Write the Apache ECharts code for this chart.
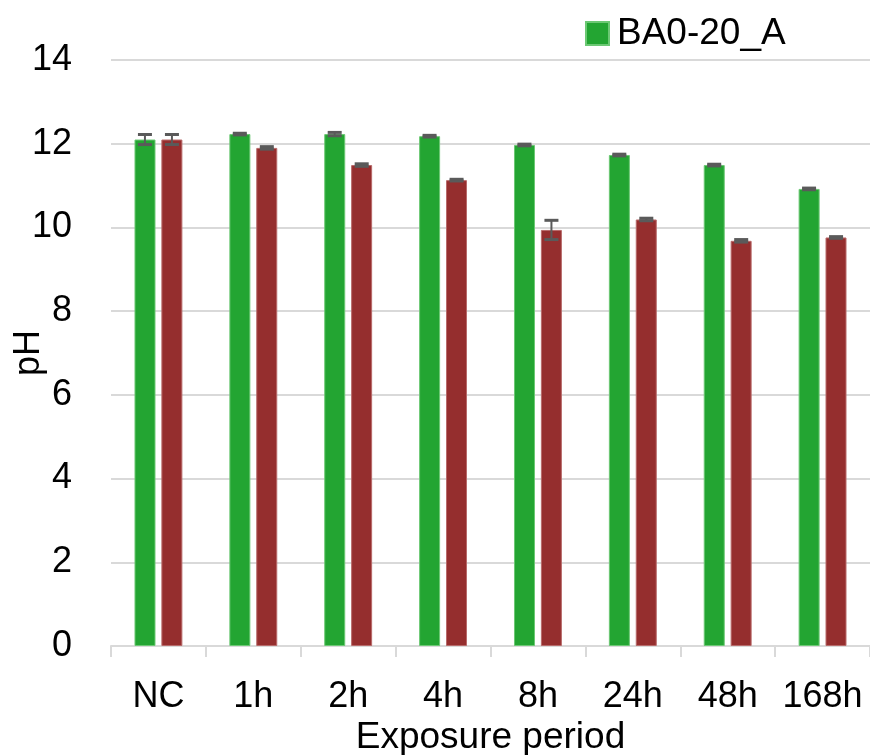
<!DOCTYPE html>
<html>
<head>
<meta charset="utf-8">
<script src="https://cdn.jsdelivr.net/npm/echarts@6/dist/echarts.min.js"></script>
<style>
  html, body { margin: 0; padding: 0; background: #fff; }
  #chart { width: 870px; height: 755px; }
</style>
</head>
<body>
<div id="chart"></div>
<script>
const categories = ['NC', '1h', '2h', '4h', '8h', '24h', '48h', '168h']
const greenValues = [12.10, 12.23, 12.23, 12.18, 11.97, 11.73, 11.49, 10.92]
const greenErrors = [0.12, 0.02, 0.04, 0.02, 0.02, 0.02, 0.02, 0.02]
const redValues = [12.10, 11.90, 11.49, 11.13, 9.94, 10.19, 9.68, 9.76]
const redErrors = [0.12, 0.03, 0.03, 0.02, 0.23, 0.03, 0.03, 0.02]
const yTicks = { min: 0, max: 14, interval: 2 }

const barW = 21
const offset = 13.5

function errorData(values, errors) {
  return values.map((v, i) => [i, v - errors[i], v + errors[i]])
}

function errorSeries(values, errors, dx) {
  return {
    type: 'custom',
    silent: true,
    z: 10,
    data: errorData(values, errors),
    renderItem(params, api) {
      const lo = api.coord([api.value(0), api.value(1)])
      const hi = api.coord([api.value(0), api.value(2)])
      const x = lo[0] + dx
      const cap = 7
      const style = { stroke: '#5a5a5a', lineWidth: 3 }
      return {
        type: 'group',
        children: [
          { type: 'line', shape: { x1: x, y1: lo[1], x2: x, y2: hi[1] }, style: { stroke: '#5a5a5a', lineWidth: 2 } },
          { type: 'line', shape: { x1: x - cap, y1: lo[1], x2: x + cap, y2: lo[1] }, style },
          { type: 'line', shape: { x1: x - cap, y1: hi[1], x2: x + cap, y2: hi[1] }, style }
        ]
      }
    }
  }
}

const chart = echarts.init(document.getElementById('chart'))
chart.setOption({
  animation: false,
  textStyle: { fontFamily: 'Liberation Sans, Arial, sans-serif' },
  grid: { left: 111, right: 0, top: 60, bottom: 109, outerBoundsMode: 'none' },
  legend: {
    data: ['BA0-20_A'],
    left: 580,
    top: 10,
    itemWidth: 23,
    itemHeight: 23,
    icon: 'rect',
    textStyle: { fontSize: 37, color: '#000', padding: [0, 0, 0, 3] }
  },
  xAxis: {
    type: 'category',
    data: categories,
    name: 'Exposure period',
    nameLocation: 'middle',
    nameGap: 73,
    nameMoveOverlap: false,
    nameTextStyle: { fontSize: 37, color: '#000' },
    axisLine: { lineStyle: { color: '#d9d9d9', width: 2 } },
    axisTick: { show: true, interval: 0, length: 11, lineStyle: { color: '#d9d9d9', width: 2 } },
    axisLabel: { fontSize: 36, color: '#000', margin: 33, interval: 0 }
  },
  yAxis: {
    type: 'value',
    min: yTicks.min,
    max: yTicks.max,
    interval: yTicks.interval,
    name: 'pH',
    nameLocation: 'middle',
    nameGap: 64,
    nameMoveOverlap: false,
    nameTextStyle: { fontSize: 36, color: '#000' },
    axisLine: { show: false },
    axisTick: { show: false },
    axisLabel: { fontSize: 36, color: '#000', margin: 39 },
    splitLine: { lineStyle: { color: '#d9d9d9', width: 2 } }
  },
  series: [
    {
      name: 'BA0-20_A',
      type: 'bar',
      data: greenValues,
      barWidth: barW,
      barGap: '28%',
      itemStyle: { color: '#23a532', borderColor: '#6cc874', borderWidth: 1 }
    },
    {
      name: 'BA0-20_B',
      type: 'bar',
      data: redValues,
      barWidth: barW,
      barGap: '28%',
      itemStyle: { color: '#952e2e', borderColor: '#b86a6a', borderWidth: 1 }
    },
    errorSeries(greenValues, greenErrors, -offset),
    errorSeries(redValues, redErrors, offset)
  ]
})
</script>
</body>
</html>
